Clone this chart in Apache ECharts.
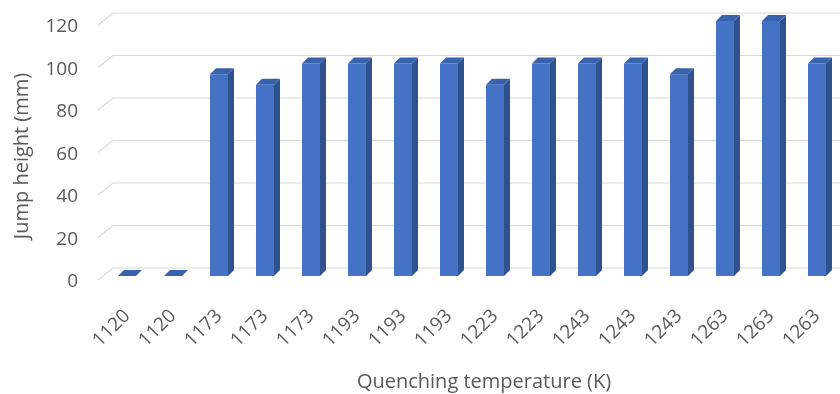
<!DOCTYPE html>
<html>
<head>
<meta charset="utf-8">
<script src="https://cdn.jsdelivr.net/npm/echarts@6/dist/echarts.min.js"></script>
<style>
  html, body { margin: 0; padding: 0; background: #ffffff; }
  #chart { width: 840px; height: 394px; }
</style>
</head>
<body>
<div id="chart"></div>
<script>
// Quenching temperature of each sample (K)
const temperatures = ['1120', '1120', '1173', '1173', '1173', '1193', '1193', '1193',
                      '1223', '1223', '1243', '1243', '1243', '1263', '1263', '1263'];
// Measured jump height of each sample (mm)
const jumpHeights = [0, 0, 95, 90, 100, 100, 100, 100, 90, 100, 100, 100, 95, 120, 120, 100];
// Value-axis ticks
const yTicks = [0, 20, 40, 60, 80, 100, 120];

const FRONT = '#4472c4';
const SIDE = '#2f528f';
const TOP = '#3a63ad';
const GRID = '#d9d9d9';
const TEXT = '#595959';
const FONT = '"Open Sans", "Liberation Sans", sans-serif';

const chart = echarts.init(document.getElementById('chart'), null, { renderer: 'canvas' });

// Pseudo-3D column: front face, darker right side and a top cap
function renderColumn(params, api) {
  const base = api.coord([api.value(0), 0]);
  const top = api.coord([api.value(0), api.value(1)]);
  const half = 9, dx = 6, dy = 6;
  const xl = base[0] - half, xr = base[0] + half;
  const yb = base[1], yt = top[1];
  return {
    type: 'group',
    children: [
      { type: 'polygon', shape: { points: [[xr, yt], [xr + dx, yt - dy], [xr + dx, yb - dy], [xr, yb]] },
        style: { fill: SIDE } },
      { type: 'rect', shape: { x: xl, y: yt, width: xr - xl, height: yb - yt },
        style: { fill: FRONT } },
      { type: 'polygon', shape: { points: [[xl, yt], [xl + dx, yt - dy], [xr + dx, yt - dy], [xr, yt]] },
        style: { fill: TOP } }
    ]
  };
}

// Back-wall gridlines with the slanted side-wall segment at the left
function renderWallLine(params, api) {
  const y = api.coord([0, api.value(1)])[1] - 8;
  const x0 = params.coordSys.x;
  return {
    type: 'polyline',
    shape: { points: [[x0 - 6, y + 12], [x0 + 9, y], [840, y]] },
    style: { stroke: GRID, lineWidth: 1.2, fill: null }
  };
}

chart.setOption({
  animation: false,
  backgroundColor: '#ffffff',
  grid: { left: 104, width: 737, top: 21, bottom: 118, containLabel: false },
  xAxis: {
    type: 'category',
    data: temperatures,
    axisLine: { show: false },
    axisTick: { show: false },
    axisLabel: { interval: 0, rotate: 45, margin: 37, color: TEXT, fontSize: 19, fontFamily: FONT }
  },
  yAxis: {
    type: 'value',
    min: 0, max: 120, interval: 20,
    axisLine: { show: false },
    axisTick: { show: false },
    splitLine: { show: false },
    axisLabel: { margin: 26, color: TEXT, fontSize: 19, fontFamily: FONT,
                 verticalAlign: 'top', lineHeight: 12 }
  },
  graphic: [
    { type: 'text', x: 22, y: 156, rotation: Math.PI / 2,
      style: { text: 'Jump height (mm)', fill: TEXT, font: '20px ' + FONT, align: 'center', verticalAlign: 'middle' } },
    { type: 'text', x: 484, y: 382,
      style: { text: 'Quenching temperature (K)', fill: TEXT, font: '20px ' + FONT, align: 'center', verticalAlign: 'middle' } }
  ],
  series: [
    { type: 'custom', z: 1, renderItem: renderWallLine, data: yTicks.map(v => [0, v]), silent: true },
    { type: 'custom', z: 2, renderItem: renderColumn, data: jumpHeights.map((v, i) => [i, v]) }
  ]
});
</script>
</body>
</html>
